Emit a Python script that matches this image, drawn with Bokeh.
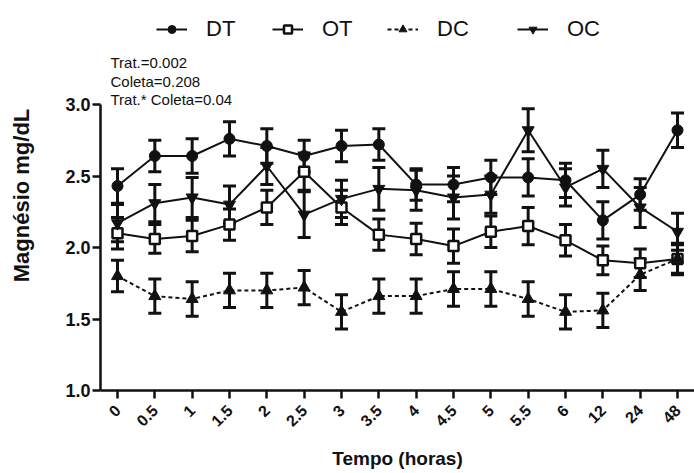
import numpy as np
from bokeh.plotting import figure
from bokeh.models import (Whisker, TeeHead, Legend, LegendItem, Label, FixedTicker,
                          Range1d, ColumnDataSource, PrintfTickFormatter)
from bokeh.embed import file_html
from bokeh.resources import INLINE

# ---- data ----
tempo = ["0", "0.5", "1", "1.5", "2", "2.5", "3", "3.5", "4", "4.5", "5", "5.5", "6", "12", "24", "48"]
dt_mean = [2.43, 2.64, 2.64, 2.76, 2.71, 2.64, 2.71, 2.72, 2.44, 2.44, 2.49, 2.49, 2.47, 2.19, 2.37, 2.82]
dt_err = [0.12, 0.11, 0.12, 0.12, 0.12, 0.11, 0.11, 0.11, 0.11, 0.12, 0.12, 0.13, 0.12, 0.13, 0.11, 0.12]
ot_mean = [2.10, 2.06, 2.08, 2.16, 2.28, 2.53, 2.28, 2.09, 2.06, 2.01, 2.11, 2.15, 2.05, 1.91, 1.89, 1.92]
ot_err = [0.11, 0.10, 0.11, 0.11, 0.12, 0.13, 0.12, 0.11, 0.11, 0.12, 0.11, 0.13, 0.11, 0.10, 0.10, 0.11]
dc_mean = [1.80, 1.66, 1.64, 1.70, 1.70, 1.72, 1.55, 1.66, 1.66, 1.71, 1.71, 1.64, 1.55, 1.56, 1.81, 1.92]
dc_err = [0.11, 0.12, 0.12, 0.12, 0.12, 0.12, 0.12, 0.12, 0.12, 0.12, 0.12, 0.12, 0.12, 0.12, 0.11, 0.10]
oc_mean = [2.17, 2.31, 2.35, 2.30, 2.57, 2.23, 2.34, 2.41, 2.40, 2.35, 2.37, 2.82, 2.42, 2.55, 2.28, 2.11]
oc_err = [0.13, 0.13, 0.14, 0.13, 0.13, 0.16, 0.13, 0.15, 0.14, 0.15, 0.13, 0.15, 0.13, 0.13, 0.14, 0.13]
stats_text = ["Trat.=0.002", "Coleta=0.208", "Trat.* Coleta=0.04"]
y_ticks = [1.0, 1.5, 2.0, 2.5, 3.0]

FONT = "Liberation Sans"
INK = "#111111"

# frame spans the full height above the x axis; the y axis line is bounded to 1.0-3.0
p = figure(width=694, height=473,
           x_range=Range1d(-0.455, 15.455), y_range=Range1d(1.0, 1.0 + 390 / 143.0),
           output_backend="svg", toolbar_location=None,
           min_border_left=100, min_border_right=0, min_border_top=0, min_border_bottom=83)
p.xgrid.visible = False
p.ygrid.visible = False
p.outline_line_color = None
p.background_fill_color = "white"
p.border_fill_color = "white"

xs = list(range(len(tempo)))

series = [
    ("DT", dt_mean, dt_err, "circle", INK, None, 11),
    ("OT", ot_mean, ot_err, "square", "white", None, 10),
    ("DC", dc_mean, dc_err, "triangle", INK, "4 3", 12),
    ("OC", oc_mean, oc_err, "inverted_triangle", INK, None, 12),
]

legend_x = [56, 172, 287, 417]
for i, (name, mean, err, marker, fill, dash, size) in enumerate(series):
    m = np.array(mean)
    e = np.array(err)
    src = ColumnDataSource(dict(x=xs, y=m, upper=m + e, lower=m - e))
    w = Whisker(source=src, base="x", upper="upper", lower="lower",
                line_color=INK, line_width=3,
                upper_head=TeeHead(size=13, line_width=3, line_color=INK),
                lower_head=TeeHead(size=13, line_width=3, line_color=INK))
    p.add_layout(w)
    kw = {}
    if dash:
        kw["line_dash"] = dash
    ln = p.line("x", "y", source=src, line_color=INK, line_width=2, **kw)
    sc = p.scatter("x", "y", source=src, marker=marker, size=size,
                   fill_color=fill, line_color=INK, line_width=2.5 if fill == "white" else 1)
    leg = Legend(items=[LegendItem(label=name, renderers=[ln, sc])],
                 location=(legend_x[i], 348), orientation="horizontal",
                 padding=0, margin=0, border_line_color=None, background_fill_alpha=0,
                 glyph_width=31, glyph_height=20, label_standoff=19,
                 label_text_font=FONT, label_text_font_size="22px", label_text_color=INK)
    p.add_layout(leg)

for j, t in enumerate(stats_text):
    p.add_layout(Label(x=10, y=328 - j * 18.5, x_units="screen", y_units="screen", text=t,
                       text_font=FONT, text_font_size="15px", text_color=INK,
                       text_baseline="alphabetic"))

# axes
xa = p.xaxis[0]
xa.ticker = FixedTicker(ticks=xs)
xa.major_label_overrides = {i: t for i, t in enumerate(tempo)}
xa.major_label_orientation = np.pi / 4
xa.major_label_text_font = FONT
xa.major_label_text_font_style = "bold"
xa.major_label_text_font_size = "16px"
xa.major_label_text_color = INK
xa.major_label_standoff = 9
xa.axis_label = "Tempo (horas)"
xa.axis_label_text_font = FONT
xa.axis_label_text_font_style = "bold"
xa.axis_label_text_font_size = "19px"
xa.axis_label_text_color = INK
xa.axis_label_standoff = 13

ya = p.yaxis[0]
ya.bounds = (1.0, 3.0)
ya.ticker = FixedTicker(ticks=y_ticks)
ya.formatter = PrintfTickFormatter(format="%.1f")
ya.major_label_text_font = FONT
ya.major_label_text_font_style = "bold"
ya.major_label_text_font_size = "18px"
ya.major_label_text_color = INK
ya.major_label_standoff = 2
ya.axis_label = "Magnésio mg/dL"
ya.axis_label_text_font = FONT
ya.axis_label_text_font_style = "bold"
ya.axis_label_text_font_size = "22px"
ya.axis_label_text_color = INK
ya.axis_label_standoff = 28

for ax in (xa, ya):
    ax.axis_line_color = INK
    ax.axis_line_width = 2.5
    ax.major_tick_line_color = INK
    ax.major_tick_line_width = 2.5
    ax.major_tick_out = 8
    ax.major_tick_in = 0
    ax.minor_tick_line_color = None

open("out.html", "w").write(file_html(p, INLINE))
